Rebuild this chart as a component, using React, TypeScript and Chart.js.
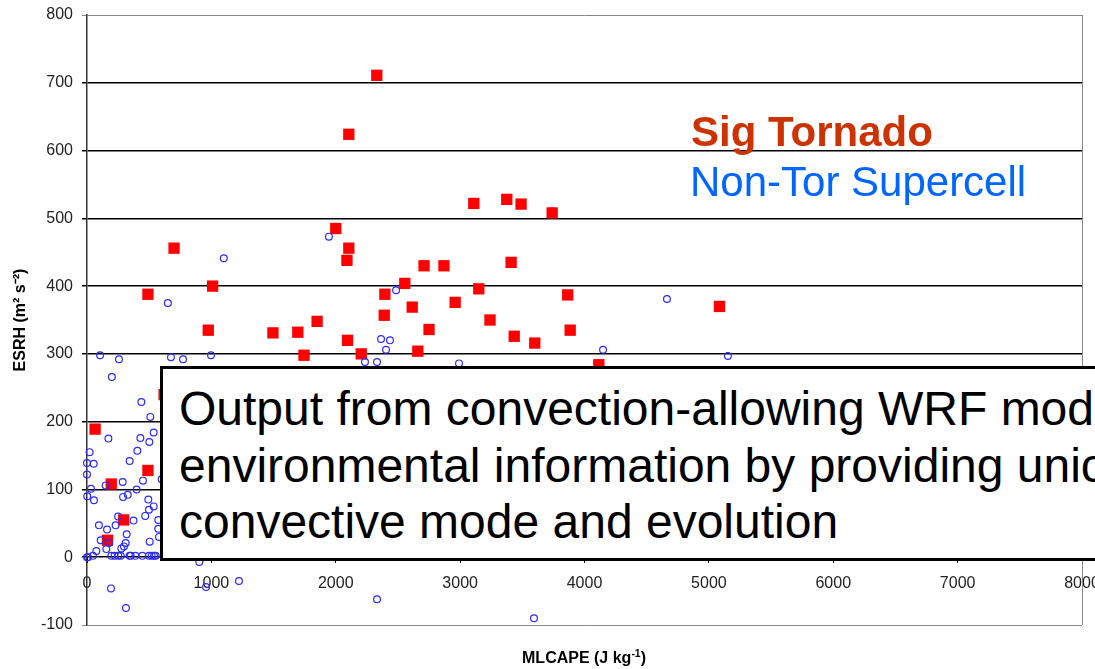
import React, { useEffect, useRef } from 'react';
import { Chart, registerables } from 'chart.js';

Chart.register(...registerables);

// Sig Tornado: MLCAPE (J/kg) and ESRH (m2/s2)
const sigTornadoCape = [
  2330, 2105, 700, 2000, 2105, 2090, 490, 1010, 975, 1495, 1695, 1850, 1745, 2095, 2205,
  2395, 2390, 2555, 2615, 2710, 2750, 2660, 2870, 2960, 3110, 3150, 3240, 3375, 3410, 3490,
  3435, 3600, 3740, 3865, 3885, 4115, 5085, 65, 195, 165, 295, 490, 620,
];
const sigTornadoEsrh = [
  711, 624, 456, 485, 456, 438, 388, 400, 335, 331, 332, 348, 298, 320, 300,
  388, 357, 404, 369, 430, 336, 304, 430, 376, 522, 396, 350, 528, 435, 521,
  326, 316, 508, 387, 335, 284, 370, 189, 108, 25, 55, 128, 240,
];

// Non-Tor Supercell: MLCAPE (J/kg) and ESRH (m2/s2)
const nonTorCape = [
  1945, 1100, 650, 2485, 2364, 2436, 2404, 2235, 2332, 2991, 105, 257, 675, 772, 997, 200,
  4663, 4149, 5153,
  1222, 957, 2332, 3594, 903, 193, 313,
  437, 509, 536, 429, 501, 172, 405, 21, 343, 0, 54, 0, 450, 287, 150, 32, 399, 2, 56, 290,
  328, 493, 536, 498, 468, 250, 374, 573, 96, 230, 161, 573, 319, 110, 311, 177, 504, 276,
  579, 155, 75, 297, 600,
  0, 8, 48, 196, 222, 252, 271, 343, 351, 389, 445, 498, 520, 539, 552,
];
const nonTorEsrh = [
  473, 441, 375, 394, 322, 320, 306, 288, 288, 286, 298, 292, 295, 292, 298, 266,
  381, 306, 297,
  -35, -44, -62, -90, -7, -46, -75,
  229, 207, 184, 176, 170, 175, 157, 155, 142, 139, 138, 122, 113, 111, 106, 101, 100, 90, 84, 89,
  92, 85, 75, 70, 61, 60, 54, 55, 47, 47, 41, 42, 34, 25, 21, 21, 23, 13,
  30, 12, 9, 16, 115,
  0, 0, 2, 2, 2, 2, 2, 2, 2, 2, 2, 2, 2, 2, 2,
];

const xMin = 0;
const xMax = 8000;
const xStep = 1000;
const yMin = -100;
const yMax = 800;
const yStep = 100;

const seriesNames = ['Sig Tornado', 'Non-Tor Supercell'];
const xTitle = 'MLCAPE (J kg';
const yTitle = 'ESRH (m² s⁻²)';
const boxLines = [
  'Output from convection-allowing WRF mod',
  'environmental information by providing unic',
  'convective mode and evolution',
];

const FONT = 'Arial, "Liberation Sans", sans-serif';

export default function App() {
  const ref = useRef<HTMLCanvasElement>(null);

  useEffect(() => {
    document.body.style.margin = '0';
    const frame = {
      id: 'frame',
      beforeDatasetsDraw(chart: any) {
        const { ctx, chartArea: a } = chart;
        ctx.save();
        ctx.strokeStyle = '#888';
        ctx.lineWidth = 1;
        ctx.beginPath();
        ctx.moveTo(Math.round(a.right) + 0.5, a.top);
        ctx.lineTo(Math.round(a.right) + 0.5, a.bottom);
        ctx.stroke();
        ctx.restore();
      },
    };
    const chart = new Chart(ref.current as HTMLCanvasElement, {
      type: 'scatter',
      data: {
        datasets: [
          {
            label: seriesNames[1],
            data: nonTorCape.map((x, i) => ({ x, y: nonTorEsrh[i] })),
            pointStyle: 'circle',
            pointRadius: 3.4,
            pointBorderWidth: 1.2,
            pointBorderColor: '#2b2bff',
            pointBackgroundColor: 'rgba(255,255,255,0)',
            order: 0,
            clip: false,
          } as any,
          {
            label: seriesNames[0],
            data: sigTornadoCape.map((x, i) => ({ x, y: sigTornadoEsrh[i] })),
            pointStyle: 'rect',
            pointRadius: 8,
            pointBorderWidth: 0,
            pointBackgroundColor: '#ff0000',
            pointBorderColor: '#ff0000',
            order: 1,
            clip: false,
          } as any,
        ],
      },
      options: {
        animation: false,
        responsive: false,
        maintainAspectRatio: false,
        layout: { padding: { left: 0, right: 13, top: 15, bottom: 44 } },
        plugins: { legend: { display: false }, tooltip: { enabled: false } },
        scales: {
          x: {
            type: 'linear',
            position: { y: 0 } as any,
            min: xMin,
            max: xMax,
            ticks: {
              stepSize: xStep,
              font: { family: FONT, size: 16 },
              color: '#222',
              padding: 11,
              maxRotation: 0,
              autoSkip: false,
              callback: (v: any) => String(v),
            },
            grid: { drawOnChartArea: false, drawTicks: true, tickLength: 6, color: '#000', lineWidth: 1 },
            border: { display: false },
            afterFit: (s: any) => {
              s.paddingLeft = 0;
              s.paddingRight = 0;
            },
          } as any,
          y: {
            type: 'linear',
            min: yMin,
            max: yMax,
            ticks: {
              stepSize: yStep,
              font: { family: FONT, size: 16 },
              color: '#222',
              padding: 9,
              callback: (v: any) => String(v),
            },
            grid: {
              color: (c: any) => (c.tick && (c.tick.value === yMax || c.tick.value === yMin) ? '#888' : '#000'),
              lineWidth: (c: any) => (c.tick && (c.tick.value === yMax || c.tick.value === yMin) ? 1 : 1.5),
              tickLength: 5,
            },
            border: { color: '#333', width: 1.5 },
            title: {
              display: true,
              text: yTitle,
              font: { family: FONT, size: 16, weight: 'bold' },
              color: '#000',
              padding: { top: 11, bottom: 0 },
            },
            afterFit: (s: any) => {
              s.width = 87;
              s.paddingTop = 0;
              s.paddingBottom = 0;
            },
          } as any,
        },
      },
      plugins: [frame],
    });
    return () => chart.destroy();
  }, []);

  return (
    <div
      style={{
        position: 'absolute',
        left: 0,
        top: 0,
        width: 1095,
        height: 669,
        overflow: 'hidden',
        background: '#fff',
        fontFamily: FONT,
      }}
    >
      <canvas ref={ref} width={1095} height={669} style={{ display: 'block', width: 1095, height: 669 }} />
      <div
        style={{
          position: 'absolute',
          left: 691,
          top: 111,
          fontSize: 42,
          lineHeight: '42px',
          fontWeight: 'bold',
          color: '#cc3300',
          whiteSpace: 'nowrap',
        }}
      >
        {seriesNames[0]}
      </div>
      <div
        style={{
          position: 'absolute',
          left: 690,
          top: 161,
          fontSize: 42,
          lineHeight: '42px',
          color: '#0066ff',
          whiteSpace: 'nowrap',
        }}
      >
        {seriesNames[1]}
      </div>
      <div
        style={{
          position: 'absolute',
          left: 384,
          top: 648,
          width: 400,
          textAlign: 'center',
          fontSize: 16,
          lineHeight: '20px',
          fontWeight: 'bold',
          color: '#000',
          whiteSpace: 'nowrap',
        }}
      >
        {xTitle}
        <sup style={{ fontSize: '0.65em', lineHeight: 0 }}>-1</sup>)
      </div>
      <div
        style={{
          position: 'absolute',
          left: 160,
          top: 366,
          width: 1000,
          height: 195,
          boxSizing: 'border-box',
          border: '3px solid #000',
          background: '#fff',
          paddingTop: 12,
          paddingLeft: 16,
          fontSize: 48,
          lineHeight: '56.5px',
          color: '#000',
          whiteSpace: 'nowrap',
          overflow: 'hidden',
        }}
      >
        {boxLines.map((t, i) => (
          <div key={i}>{t}</div>
        ))}
      </div>
    </div>
  );
}
